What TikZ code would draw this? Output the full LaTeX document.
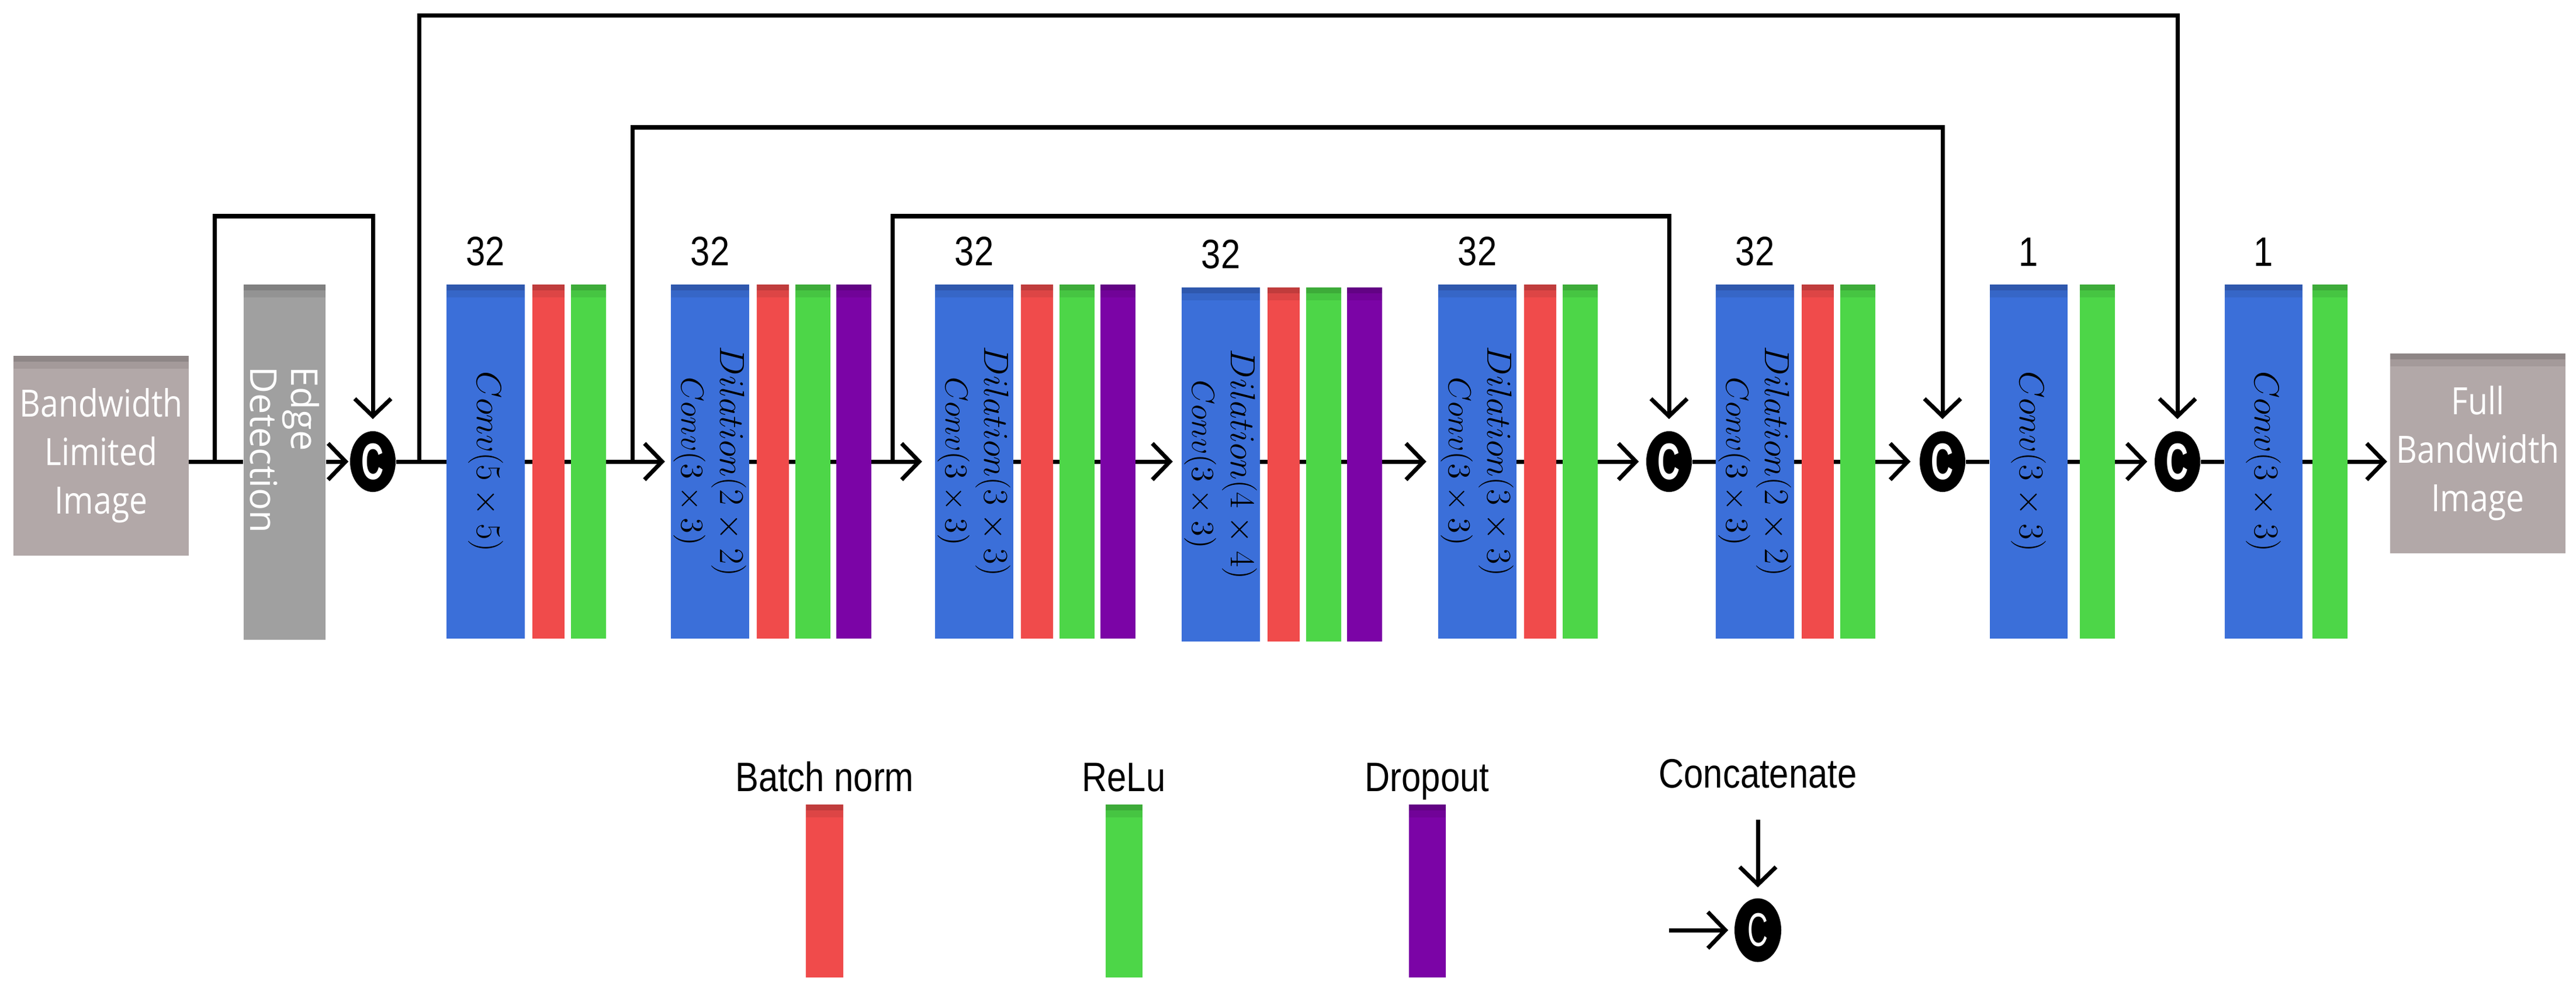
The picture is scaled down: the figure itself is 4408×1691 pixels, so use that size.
\RequirePackage{fix-cm}
\documentclass[tikz,border=0pt]{standalone}
\usepackage{fontspec}
\usepackage{tikz}
\usetikzlibrary{arrows.meta,positioning,shapes.geometric,backgrounds}
\newfontfamily\boxfont[FakeStretch=0.86]{Open Sans}
\newfontfamily\rotfont{Open Sans}
\newfontfamily\lblfont[FakeStretch=0.85]{Liberation Sans}
\newfontfamily\cfont[FakeStretch=0.6]{Liberation Sans}
\definecolor{convblue}{RGB}{59,111,217}
\definecolor{bnred}{RGB}{240,75,75}
\definecolor{relugreen}{RGB}{77,214,72}
\definecolor{droppurple}{RGB}{123,4,166}
\definecolor{imggray}{RGB}{178,168,168}
\definecolor{edgegray}{RGB}{160,160,160}

\begin{document}
\begin{tikzpicture}[x=0.01cm,y=-0.01cm,line join=miter,
  topshade/.style={path picture={\fill[black,opacity=0.2] (path picture bounding box.north west) rectangle ([yshift=-0.1cm]path picture bounding box.north east);
    \fill[black,opacity=0.08] ([yshift=-0.1cm]path picture bounding box.north west) rectangle ([yshift=-0.22cm]path picture bounding box.north east);}},
  layer/.style={topshade,inner sep=0pt,minimum height=6.06cm},
  conv/.style={layer,fill=convblue,minimum width=1.33cm},
  bn/.style={layer,fill=bnred,minimum width=0.55cm},
  relu/.style={layer,fill=relugreen,minimum width=0.6cm},
  drop/.style={layer,fill=droppurple,minimum width=0.6cm},
  bar/.style={topshade,inner sep=0pt,minimum height=2.96cm,minimum width=0.63cm},
  imgbox/.style={topshade,fill=imggray,inner sep=0pt,minimum width=2.99cm,minimum height=3.42cm,text=white,align=center,font=\boxfont\fontsize{18.3}{23.6}\selectfont},
  edgebox/.style={topshade,fill=edgegray,inner sep=0pt,minimum width=1.4cm,minimum height=6.07cm},
  edgetxt/.style={rotate=-90,align=left,text=white,inner sep=0pt,font=\rotfont\fontsize{18}{20}\selectfont},
  convtxt/.style={rotate=-90,align=center,inner sep=0pt,font=\fontsize{17}{19}\selectfont},
  num/.style={inner sep=0pt,font=\lblfont\fontsize{20}{24}\selectfont},
  lbl/.style={inner sep=0pt,font=\lblfont\fontsize{20}{24}\selectfont},
  cat/.style={ellipse,fill=black,text=white,inner sep=0pt,minimum width=0.78cm,minimum height=1.04cm,font=\cfont\bfseries\fontsize{25}{25}\selectfont},
  ln/.style={line width=0.07cm},
  arr/.style={ln,shorten >=0.15cm,-{Straight Barb[length=0.3cm,width=0.62cm]}},
  skip/.style={arr,shorten >=0.2cm}]
\useasboundingbox (0,0) rectangle (4408,1691);

% input and edge detection
\node[imgbox] (bw) at (173,780) {Bandwidth\\Limited\\Image};
\node[edgebox] (edge) at (487,791) {};
\node[edgetxt] at ([yshift=0.21cm]edge.center) {Edge\\Detection};
\node[cat] (c1) at (638,790) {C};

% block 1
\node[conv] (conv1) at (831,790) {};
\node[bn,right=0.12cm of conv1] (bn1) {};
\node[relu,right=0.1cm of bn1] (relu1) {};
\node[num,above=0.3cm of conv1] {32};
\node[convtxt] at (conv1) {$Conv(5\times 5)$};

% block 2
\node[conv] (conv2) at (1215,790) {};
\node[bn,right=0.12cm of conv2] (bn2) {};
\node[relu,right=0.1cm of bn2] (relu2) {};
\node[drop,right=0.08cm of relu2] (drop2) {};
\node[num,above=0.3cm of conv2] {32};
\node[convtxt] at (conv2) {$Dilation(2\times 2)$\\\fontsize{15.5}{19}\selectfont$Conv(3\times 3)$};

% block 3
\node[conv] (conv3) at (1667,790) {};
\node[bn,right=0.12cm of conv3] (bn3) {};
\node[relu,right=0.1cm of bn3] (relu3) {};
\node[drop,right=0.08cm of relu3] (drop3) {};
\node[num,above=0.3cm of conv3] {32};
\node[convtxt] at (conv3) {$Dilation(3\times 3)$\\\fontsize{15.5}{19}\selectfont$Conv(3\times 3)$};

% block 4
\node[conv] (conv4) at (2089,795) {};
\node[bn,right=0.12cm of conv4] (bn4) {};
\node[relu,right=0.1cm of bn4] (relu4) {};
\node[drop,right=0.08cm of relu4] (drop4) {};
\node[num,above=0.3cm of conv4] {32};
\node[convtxt] at (conv4) {$Dilation(4\times 4)$\\\fontsize{15.5}{19}\selectfont$Conv(3\times 3)$};

% block 5
\node[conv] (conv5) at (2528,790) {};
\node[bn,right=0.12cm of conv5] (bn5) {};
\node[relu,right=0.1cm of bn5] (relu5) {};
\node[num,above=0.3cm of conv5] {32};
\node[convtxt] at (conv5) {$Dilation(3\times 3)$\\\fontsize{15.5}{19}\selectfont$Conv(3\times 3)$};
\node[cat] (c2) at (2856,790) {C};

% block 6
\node[conv] (conv6) at (3003,790) {};
\node[bn,right=0.12cm of conv6] (bn6) {};
\node[relu,right=0.1cm of bn6] (relu6) {};
\node[num,above=0.3cm of conv6] {32};
\node[convtxt] at (conv6) {$Dilation(2\times 2)$\\\fontsize{15.5}{19}\selectfont$Conv(3\times 3)$};
\node[cat] (c3) at (3324,790) {C};

% block 7 and 8
\node[conv] (conv7) at (3471,790) {};
\node[relu,right=0.2cm of conv7] (relu7) {};
\node[num,above=0.3cm of conv7] {1};
\node[convtxt] at (conv7) {$Conv(3\times 3)$};
\node[cat] (c4) at (3726,790) {C};
\node[conv] (conv8) at (3873,790) {};
\node[relu,right=0.16cm of conv8] (relu8) {};
\node[num,above=0.3cm of conv8] {1};
\node[convtxt] at (conv8) {$Conv(3\times 3)$};
\node[imgbox] (full) at (4240,776) {Full\\Bandwidth\\Image};

% main path, behind the layers
\begin{scope}[on background layer]
\draw[ln] (bw.east |- c1) -- (edge.west |- c1);
\draw[arr,shorten >=0.02cm] (edge.east |- c1) -- (c1);
\draw[arr,shorten >=0.1cm] (c1) -- (conv2);
\draw[arr,shorten >=0.22cm] (conv2) -- (conv3);
\draw[arr] (conv3.east |- c1) -- (conv4.west |- c1);
\draw[arr,shorten >=0.2cm] (conv4.east |- c1) -- (conv5.west |- c1);
\draw[arr,shorten >=0.12cm] (conv5) -- (c2);
\draw[ln] (c2) -- (conv6);
\draw[arr] (conv6) -- (c3);
\draw[ln] (c3) -- (conv7);
\draw[arr,shorten >=0.12cm] (conv7) -- (c4);
\draw[ln] (c4) -- (conv8);
\draw[arr,shorten >=0.05cm] (conv8) -- (conv8 -| full.west);
\end{scope}

% skip connections
\coordinate (lvA) at (0,27);
\coordinate (lvB) at (0,218);
\coordinate (lvC) at (0,370);
\coordinate (j0) at (367,790);
\coordinate (j1) at (717,790);
\coordinate (j2) at (1082,790);
\coordinate (j3) at (1527,790);
\draw[skip] (j0) |- (c1 |- lvC) -- (c1);
\draw[skip] (j1) |- (c4 |- lvA) -- (c4);
\draw[skip] (j2) |- (c3 |- lvB) -- (c3);
\draw[skip] (j3) |- (c2 |- lvC) -- (c2);

% legend
\node[bar,fill=bnred] (lgbn) at (1411,1525) {};
\node[bar,fill=relugreen] (lgrelu) at (1923,1525) {};
\node[bar,fill=droppurple] (lgdrop) at (2442,1525) {};
\node[lbl,above=0.22cm of lgbn,anchor=base] {Batch norm};
\node[lbl,above=0.22cm of lgrelu,anchor=base] {ReLu};
\node[lbl,above=0.22cm of lgdrop,anchor=base] {Dropout};
\node[lbl,anchor=base] (lgcat) at (3008,1348) {Concatenate};
\node[cat,minimum width=0.8cm,minimum height=1.09cm,font=\cfont\fontsize{23}{23}\selectfont] (lgc) at (3008,1592) {C};
\coordinate (lgtop) at (3008,1403);
\coordinate (lgleft) at (2856,1592);
\draw[arr,shorten >=0.18cm] (lgtop) -- (lgc);
\draw[arr,shorten >=0.1cm] (lgleft) -- (lgc);
\end{tikzpicture}
\end{document}
